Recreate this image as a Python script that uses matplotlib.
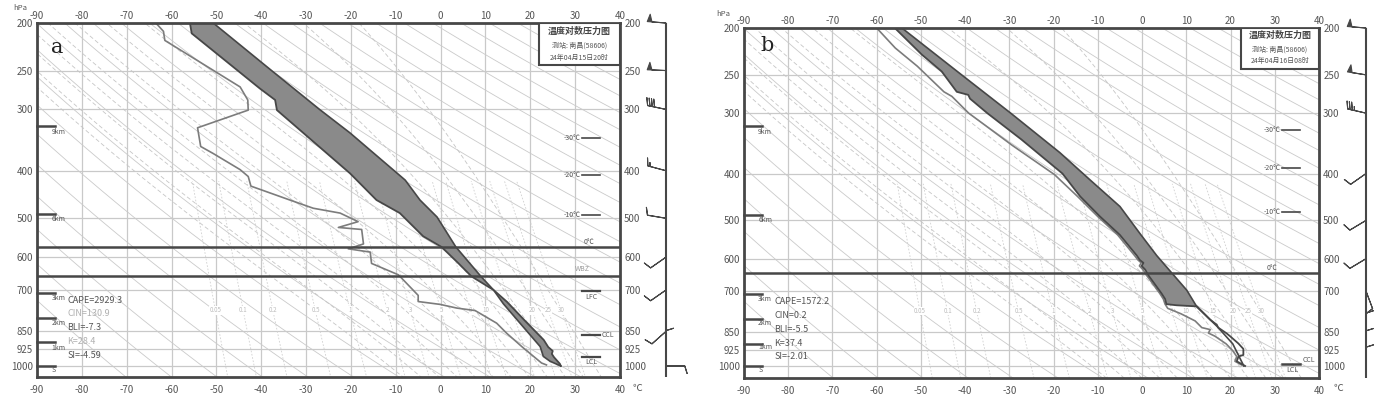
import numpy as np
import matplotlib.pyplot as plt
from matplotlib.patches import Rectangle

plt.rcParams['font.family'] = ['Noto Sans CJK SC', 'DejaVu Sans']

W, H = 1383, 399

p_ticks = [200, 250, 300, 400, 500, 600, 700, 850, 925, 1000]
t_ticks = list(range(-90, 41, 10))

# ---- panel a : 24-04-15 20h
a_env_p = [200, 210, 272, 287, 301, 405, 459, 488, 544, 572, 618, 657, 700, 740, 805, 885, 915, 932, 945, 960, 990, 1000]
a_env_t = [-55.9, -55.5, -40.3, -36.9, -36.5, -20.2, -14.3, -9.1, -3.9, 0.2, 4.0, 6.9, 11.8, 14.8, 18.6, 23.0, 24.0, 25.0, 24.8, 25.3, 26.6, 26.8]
a_par_p = [200, 250, 300, 335, 418, 459, 497, 572, 657, 700, 747, 832, 913, 956, 978, 1000]
a_par_t = [-50.7, -37.7, -27.0, -20.2, -7.9, -4.6, -0.8, 3.4, 9.0, 11.8, 14.0, 18.4, 22.2, 22.9, 24.4, 26.8]
a_dew_p = [200, 208, 217, 270, 287, 301, 327, 357, 369, 398, 411, 430, 459, 477, 488, 508, 522, 527, 564, 577,
           586, 618, 652, 718, 739, 749, 762, 771, 818, 857, 918, 986, 995]
a_dew_t = [-63.5, -61.8, -61.5, -44.7, -43.0, -42.9, -54.2, -53.5, -50.7, -44.7, -42.9, -42.3, -33.6, -28.4, -22.4,
           -18.4, -22.8, -17.6, -17.2, -20.6, -15.7, -15.4, -9.4, -5.0, -5.0, -0.1, 3.6, 7.7, 12.5, 14.7, 18.4, 22.5, 23.6]
a_lines = [572, 655]
a_km_p = [325, 490, 709, 798, 893, 999]
a_km_lab_p = [333, 502, 727, 819, 920, 1017]
a_stats = ["CAPE=2929.3", "CIN=130.9", "BLI=-7.3", "K=28.4", "SI=-4.59"]
a_stats_p = [734, 780, 836, 893, 953]
a_iso_p = [343, 408, 493]
a_wind_u = [52, 48, 38, 15, 12, 10, 10, 9, 0, -10]
a_wind_v = [-4, -2, -8, -4, -2, 7, 7, 8, -8, 0]

# ---- panel b : 24-04-16 08h
b_env_p = [200, 227, 246, 271, 275, 280, 300, 340, 400, 446, 491, 536, 591, 604, 612, 621, 632, 649, 708, 727, 745,
           749, 751, 753, 802, 822, 833, 856, 868, 899, 922, 949, 956, 978, 1000]
b_env_t = [-55.9, -49.8, -45.3, -41.9, -39.3, -38.9, -35.0, -27.3, -18.0, -14.0, -9.5, -5.0, -1.2, -0.5, 0.3, -0.1,
           0.7, 1.4, 4.4, 5.2, 5.5, 7.8, 10.1, 12.4, 15.4, 16.9, 17.2, 19.1, 19.9, 21.8, 22.9, 22.9, 21.8, 21.4, 23.3]
b_par_p = [200, 250, 300, 362, 412, 468, 532, 591, 642, 697, 755, 829, 900, 1000]
b_par_t = [-54.3, -40.8, -29.7, -18.6, -11.8, -5.0, -0.5, 3.3, 6.7, 10.1, 12.4, 17.0, 20.5, 23.0]
b_dew_p = [200, 220, 240, 271, 277, 300, 350, 402, 446, 491, 536, 591, 604, 612, 621, 632, 649, 708, 727, 745, 760,
           780, 807, 833, 841, 855, 868, 900, 930, 956, 978, 995]
b_dew_t = [-60.0, -55.8, -50.8, -44.8, -43.0, -39.2, -29.3, -19.8, -14.6, -10.0, -5.5, -1.7, -0.9, -0.2, -0.6, 0.2,
           1.0, 4.0, 4.8, 5.2, 5.8, 8.8, 12.0, 13.5, 15.4, 15.0, 16.5, 19.0, 20.5, 21.4, 21.0, 22.5]
b_lines = [641]
b_km_p = [319.5, 487, 709, 800, 900, 1000]
b_km_lab_p = [328, 499, 727, 815, 915, 1018]
b_stats = ["CAPE=1572.2", "CIN=0.2", "BLI=-5.5", "K=37.4", "SI=-2.01"]
b_stats_p = [734, 787, 839, 900, 957]
b_iso_p = [325, 390, 480]
b_wind_u = [50, 50, 35, 10, 10, 10, -3, 0, 0, 0]
b_wind_v = [-4, -8, -8, 7, 6, 6, 8, -12, -12, -10]

wind_p = [200, 250, 300, 400, 500, 600, 700, 850, 925, 1000]
km_labels = ["9km", "6km", "3km", "2km", "1km", "S"]
iso_labels = ["-30℃", "-20℃", "-10℃"]

# background reference lines
theta_dry = list(range(200, 471, 10))      # K
theta_moist = list(range(-8, 37, 4))       # degC at bottom
mix_ratio = [0.05, 0.1, 0.2, 0.5, 1, 2, 3, 5, 8, 10, 15, 20, 25, 30]

GRID = '#c9c9c9'
DARK = '#474747'
FILL = '#8a8a8a'
DEW = '#7c7c7c'
TXT = '#555555'


def box(x0, y0, x1, y1):
    return [x0 / W, 1 - y1 / H, (x1 - x0) / W, (y1 - y0) / H]


def moist_line(t0, p):
    t = np.empty_like(p)
    t[0] = t0 + 273.15
    for i in range(1, len(p)):
        T = t[i - 1]
        es = 6.112 * np.exp(17.67 * (T - 273.15) / (T - 29.65))
        rs = 0.622 * es / (p[i - 1] - es)
        dtdp = (287.04 * T + 2.501e6 * rs) / (1005.7 + 2.501e6 ** 2 * rs * 0.622 / (287.04 * T ** 2)) / p[i - 1]
        t[i] = T + dtdp * (p[i] - p[i - 1])
    return t - 273.15


pp = np.geomspace(1060, 195, 300)
pw = np.geomspace(1060, 420, 60)


def background(ax):
    for p in p_ticks:
        ax.axhline(p, color=GRID, lw=0.9, zorder=1)
    for t in t_ticks:
        ax.axvline(t, color=GRID, lw=0.9, zorder=1)
    for th in theta_dry:
        ax.plot(th * (pp / 1000) ** 0.286 - 273.15, pp, color='#cacaca', lw=0.6, zorder=1)
    for t0 in theta_moist:
        ax.plot(moist_line(t0, pp), pp, color='#c6c6c6', lw=0.6, ls=(0, (5, 3)), zorder=1)
    for w in mix_ratio:
        e = w * pw / (622 + w)
        lg = np.log(e / 6.112)
        td = 243.5 * lg / (17.67 - lg)
        ax.plot(td, pw, color='#d0d0d0', lw=0.6, ls=(0, (2, 2)), zorder=1)
        k = np.argmin(abs(pw - 770))
        ax.text(td[k], 770, str(w), fontsize=4.5, color='#bdbdbd', ha='center', va='center', zorder=2,
                bbox=dict(facecolor='white', edgecolor='none', pad=0.2))


def setup(ax, ymax):
    ax.set_yscale('log')
    ax.set_ylim(ymax, 200)
    ax.set_xlim(-90, 40)
    ax.minorticks_off()
    ax.set_yticks(p_ticks)
    ax.set_yticklabels([str(p) for p in p_ticks])
    ax.set_xticks(t_ticks)
    ax.set_xticklabels([str(t) for t in t_ticks])
    ax.tick_params(length=0, labelsize=7, colors=TXT, labelright=True)
    ax.tick_params(axis='x', pad=5.5)
    ax.tick_params(axis='y', pad=3)
    top = ax.secondary_xaxis('top')
    top.set_xticks(t_ticks)
    top.set_xticklabels([str(t) for t in t_ticks])
    top.tick_params(length=0, labelsize=7, colors=TXT, pad=1.2)
    top.spines['top'].set_visible(False)
    for s in ax.spines.values():
        s.set_color(DARK)
        s.set_linewidth(2)
        s.set_zorder(6)


def panel(ax, env_p, env_t, par_p, par_t, dew_p, dew_t, lines, km_p, km_lab_p, stats, stats_p, faint,
          fill_lim, ymax):
    setup(ax, ymax)
    background(ax)
    env_p, env_t = np.array(env_p), np.array(env_t)
    par_p, par_t = np.array(par_p), np.array(par_t)
    m1 = env_p <= fill_lim
    m2 = par_p <= fill_lim
    ax.fill(np.r_[env_t[m1], par_t[m2][::-1]], np.r_[env_p[m1], par_p[m2][::-1]],
            facecolor=FILL, edgecolor='none', zorder=3)
    ax.plot(dew_t, dew_p, color=DEW, lw=1.2, zorder=4)
    ax.plot(par_t, par_p, color=DARK, lw=1.2, zorder=4)
    ax.plot(env_t, env_p, color=DARK, lw=1.3, zorder=4)
    for p in lines:
        ax.axhline(p, color=DARK, lw=1.8, zorder=5)
    for p, lp, lab in zip(km_p, km_lab_p, km_labels):
        ax.plot([-90, -86], [p, p], color=DARK, lw=1.8, zorder=5, clip_on=False)
        ax.text(-86.8, lp, lab, fontsize=5, color=TXT, ha='left', va='center', zorder=5)
    for p, s, f in zip(stats_p, stats, faint):
        ax.text(-83.2, p, s, fontsize=6.5, color='#b0b0b0' if f else TXT, ha='left', va='center', zorder=5)


fig = plt.figure(figsize=(W / 100, H / 100), dpi=100)

# ---------- panel a
ax1 = fig.add_axes(box(37, 23, 620, 377))
panel(ax1, a_env_p, a_env_t, a_par_p, a_par_t, a_dew_p, a_dew_t, a_lines, a_km_p, a_km_lab_p,
      a_stats, a_stats_p, [False, True, False, True, False], 1100, 1053)
for p, lab in zip(a_iso_p, iso_labels):
    ax1.plot([31.5, 35.5], [p, p], color=DARK, lw=1.2, zorder=5)
    ax1.text(31.2, p, lab, fontsize=5, color=TXT, ha='right', va='center', zorder=5)
ax1.text(33.0, 558, "0℃", fontsize=5, color=TXT, ha='center', va='center', zorder=5)
ax1.text(31.7, 635, "WBZ", fontsize=5, color='#999999', ha='center', va='center', zorder=5)
for p in [703, 866, 958]:
    ax1.plot([31.5, 35.5], [p, p], color=DARK, lw=1.6, zorder=5)
ax1.text(33.6, 724, "LFC", fontsize=5, color=TXT, ha='center', va='center', zorder=5)
ax1.text(35.9, 866, "CCL", fontsize=5, color=TXT, ha='left', va='center', zorder=5)
ax1.text(33.6, 983, "LCL", fontsize=5, color=TXT, ha='center', va='center', zorder=5)

ax1.add_patch(Rectangle((0.861, 0.881), 0.139, 0.119, transform=ax1.transAxes, facecolor='white',
                        edgecolor=DARK, lw=1.5, zorder=7))
ax1.text(0.93, 0.977, "温度对数压力图", transform=ax1.transAxes, fontsize=6.5, fontweight='bold',
         color='#444444', ha='center', va='center', zorder=8)
ax1.text(0.93, 0.935, "测站: 南昌(58606)", transform=ax1.transAxes, fontsize=5, color=TXT,
         ha='center', va='center', zorder=8)
ax1.text(0.93, 0.901, "24年04月15日20时", transform=ax1.transAxes, fontsize=5, color=TXT,
         ha='center', va='center', zorder=8)
ax1.text(0.034, 0.932, "a", transform=ax1.transAxes, fontsize=15, family='DejaVu Serif',
         color='#222222', ha='center', va='center', zorder=8)

# ---------- panel b
ax2 = fig.add_axes(box(744, 28, 1319, 378))
panel(ax2, b_env_p, b_env_t, b_par_p, b_par_t, b_dew_p, b_dew_t, b_lines, b_km_p, b_km_lab_p,
      b_stats, b_stats_p, [False] * 5, 755, 1059)
for p, lab in zip(b_iso_p, iso_labels):
    ax2.plot([31.6, 35.7], [p, p], color=DARK, lw=1.2, zorder=5)
    ax2.text(31.3, p, lab, fontsize=5, color=TXT, ha='right', va='center', zorder=5)
ax2.text(29.5, 626, "0℃", fontsize=5, color=TXT, ha='center', va='center', zorder=5)
ax2.plot([31.6, 35.7], [990, 990], color=DARK, lw=1.8, zorder=5)
ax2.text(36.4, 970, "CCL", fontsize=5, color=TXT, ha='left', va='center', zorder=5)
ax2.text(33.9, 1017, "LCL", fontsize=5, color=TXT, ha='center', va='center', zorder=5)

ax2.add_patch(Rectangle((0.864, 0.882), 0.136, 0.118, transform=ax2.transAxes, facecolor='white',
                        edgecolor=DARK, lw=1.5, zorder=7))
ax2.text(0.932, 0.98, "温度对数压力图", transform=ax2.transAxes, fontsize=6.5, fontweight='bold',
         color='#444444', ha='center', va='center', zorder=8)
ax2.text(0.932, 0.937, "测站: 南昌(58606)", transform=ax2.transAxes, fontsize=5, color=TXT,
         ha='center', va='center', zorder=8)
ax2.text(0.932, 0.906, "24年04月16日08时", transform=ax2.transAxes, fontsize=5, color=TXT,
         ha='center', va='center', zorder=8)
ax2.text(0.04, 0.951, "b", transform=ax2.transAxes, fontsize=15, family='DejaVu Serif',
         color='#222222', ha='center', va='center', zorder=8)

# ---------- wind columns
for bx, ymax, xl, u, v in [((630, 23, 700, 377), 1053, 666, a_wind_u, a_wind_v),
                           ((1330, 28, 1383, 378), 1059, 1366, b_wind_u, b_wind_v)]:
    axw = fig.add_axes(box(*bx))
    axw.set_yscale('log')
    axw.set_ylim(ymax, 200)
    axw.set_xlim(bx[0], bx[2])
    axw.axis('off')
    axw.axvline(xl, color=DARK, lw=1.5)
    axw.barbs([xl] * len(wind_p), wind_p, u, v, length=5.2, linewidth=0.8, color=DARK, clip_on=False)

# outer labels
fig.text(20 / W, 1 - 8 / H, "hPa", fontsize=5.5, color=TXT, ha='center', va='center')
fig.text(723 / W, 1 - 14 / H, "hPa", fontsize=5.5, color=TXT, ha='center', va='center')
fig.text(637 / W, 1 - 388 / H, "℃", fontsize=7, color=TXT, ha='center', va='center')
fig.text(1338 / W, 1 - 388 / H, "℃", fontsize=7, color=TXT, ha='center', va='center')

fig.savefig("out.png", dpi=100)
